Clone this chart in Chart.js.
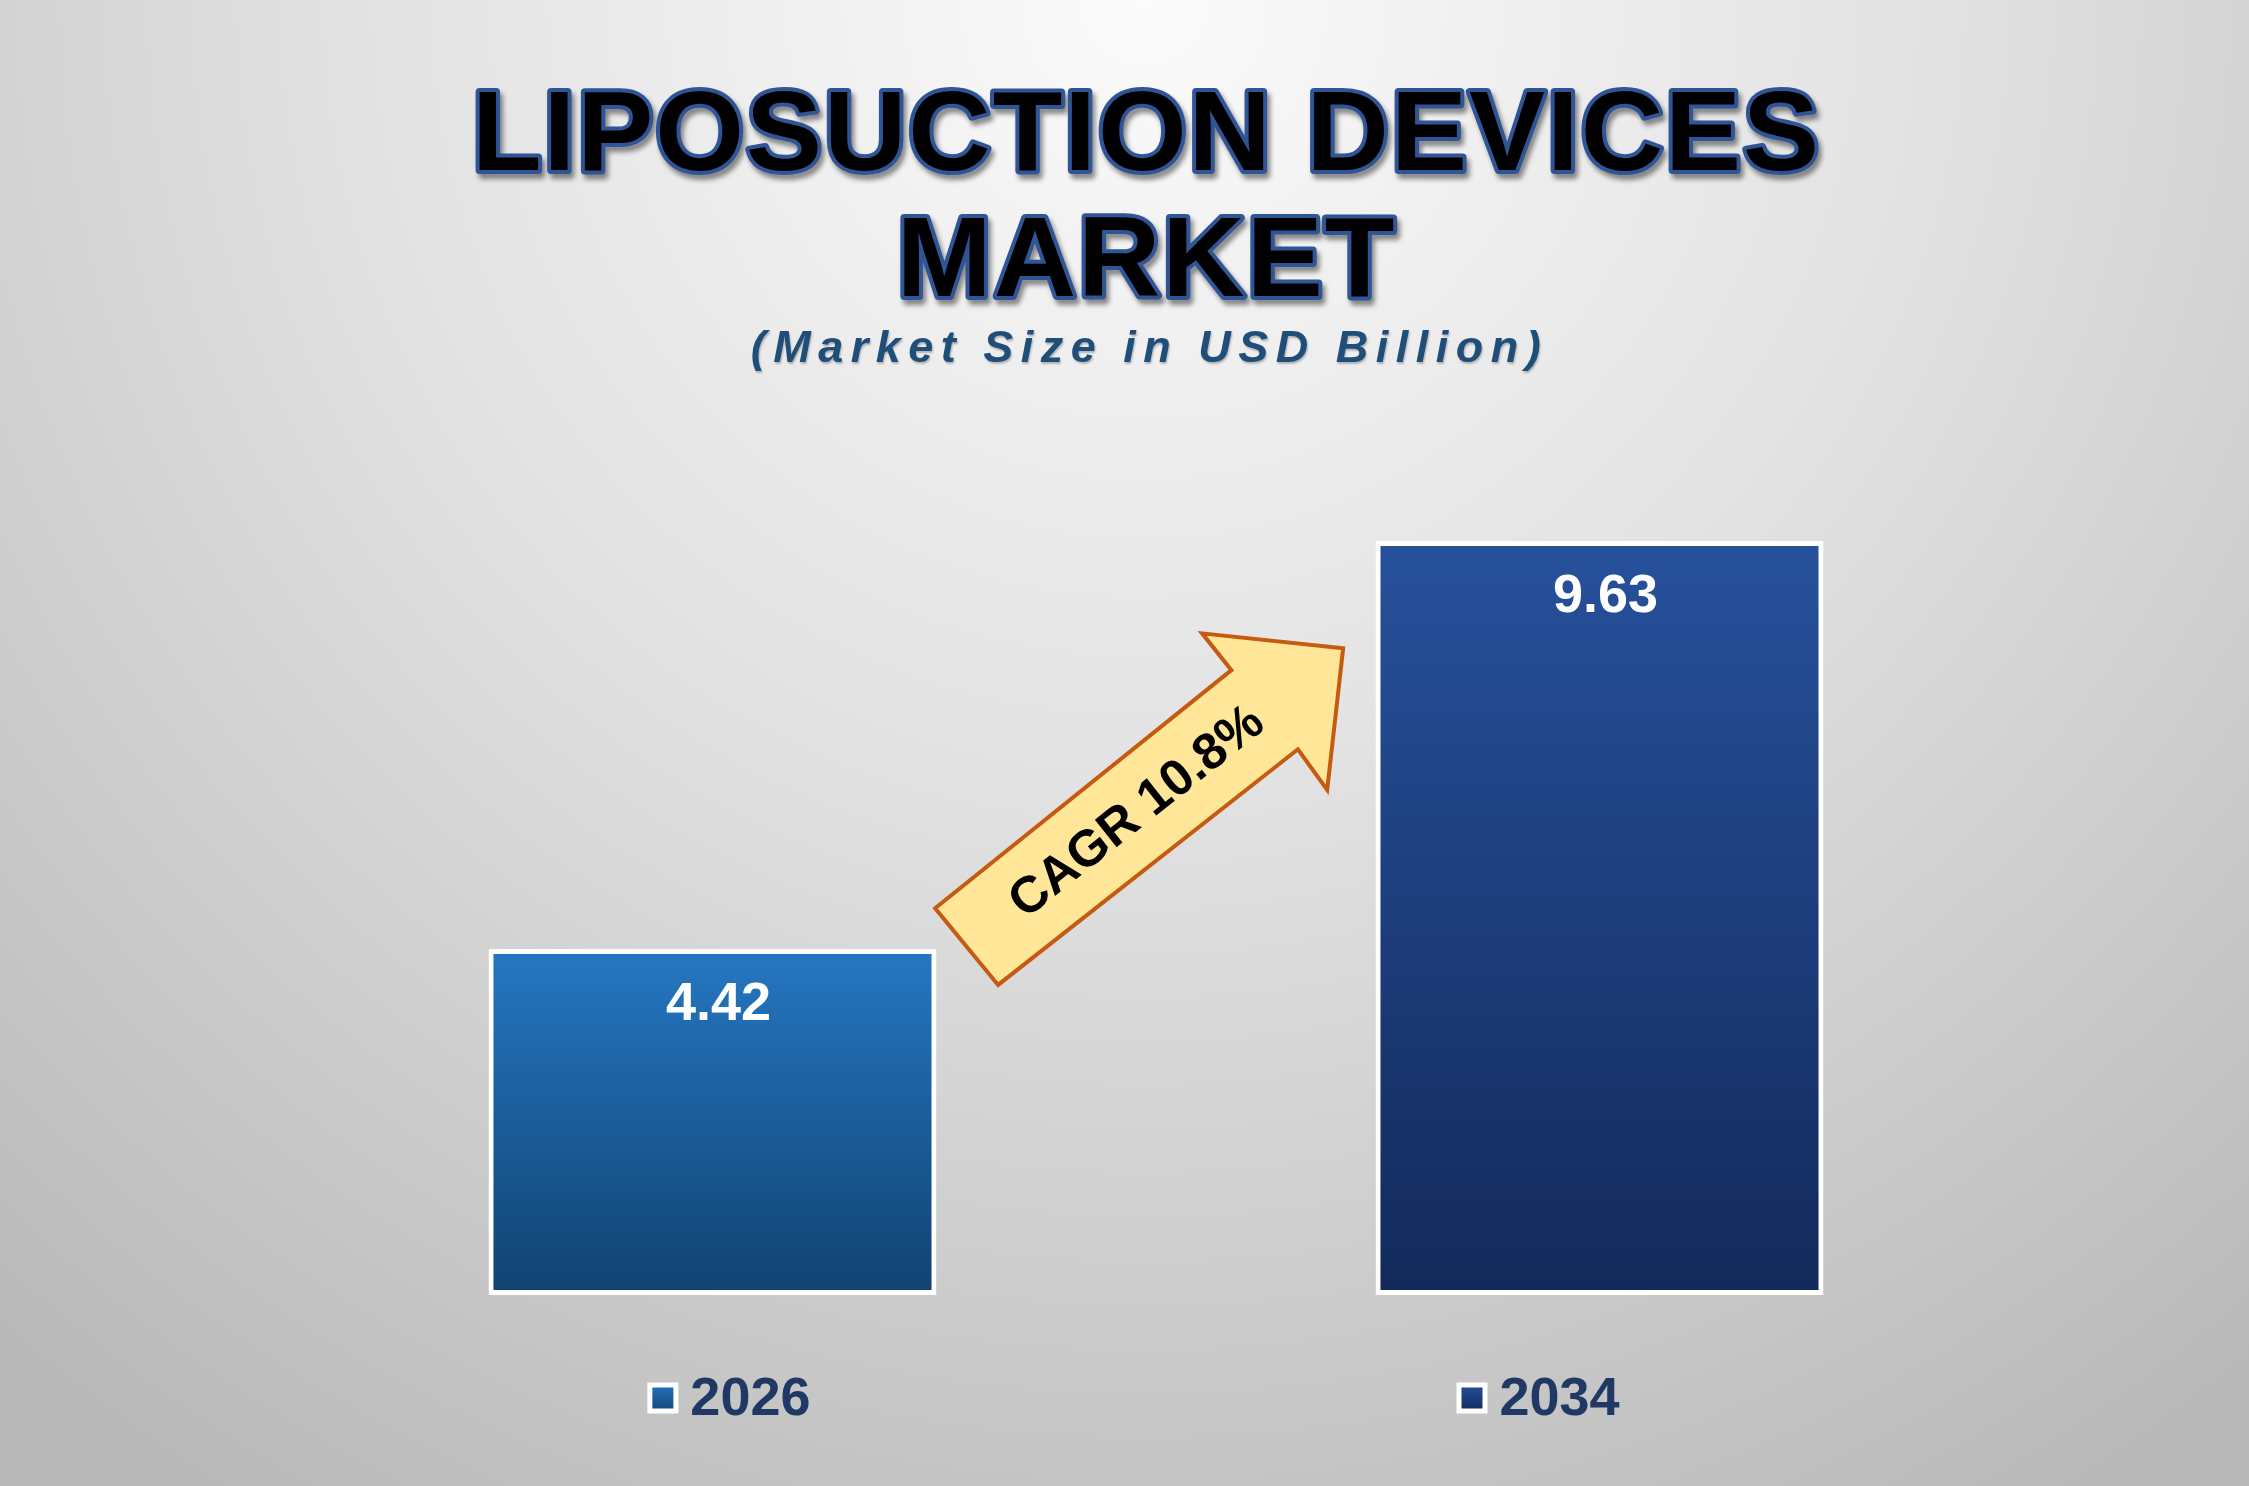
<!DOCTYPE html>
<html><head><meta charset="utf-8">
<script src="https://cdn.jsdelivr.net/npm/chart.js@4.4.1/dist/chart.umd.min.js"></script>
<style>html,body{margin:0;padding:0;overflow:hidden;background:#d0d0d0}#wrap{position:relative;width:2249px;height:1486px}</style>
</head><body><div id="wrap"><canvas id="c"></canvas></div>
<script>
// ---- data ----
const categories = ['2026', '2034'];
const marketValues = [4.42, 9.63];
const titleLines = ['LIPOSUCTION DEVICES', 'MARKET'];
const subtitleText = '(Market Size in USD Billion)';
const cagrText = 'CAGR 10.8%';
// CAGR arrow outline, in (category index, value) coordinates
const arrowIdx = [0.251, 0.585, 0.552, 0.711, 0.693, 0.660, 0.322];
const arrowVal = [4.94, 7.98, 8.45, 8.26, 6.45, 6.97, 3.96];
const cagrAnchor = [0.479, 6.16];

// ---- styles ----
const FONT = "'Liberation Sans', Arial, sans-serif";
const barTop = ['#2577c2', '#27519c'];
const barBottom = ['#114271', '#13295a'];

function gradFor(ctx, i) {
  const chart = ctx.chart;
  const ys = chart.scales && chart.scales.y;
  if (!chart.chartArea || !ys) return barTop[i];
  const top = ys.getPixelForValue(marketValues[i]);
  const bot = ys.getPixelForValue(0);
  const g = chart.ctx.createLinearGradient(0, top, 0, bot);
  g.addColorStop(0, barTop[i]);
  g.addColorStop(1, barBottom[i]);
  return g;
}

const datasets = categories.map((cat, i) => ({
  label: cat,
  data: categories.map((c, j) => (j === i ? marketValues[i] : null)),
  backgroundColor: (ctx) => gradFor(ctx, i),
  borderColor: '#ffffff',
  borderWidth: 5,
  borderSkipped: false,
  grouped: false,
  categoryPercentage: 1,
  barPercentage: 0.505
}));

const bgPlugin = {
  id: 'bg',
  beforeDraw(chart) {
    const { ctx, width, height } = chart;
    ctx.save();
    const g = ctx.createRadialGradient(width / 2 + 20, 0, 0, width / 2 + 20, 0, 1750);
    g.addColorStop(0, '#fbfbfb');
    g.addColorStop(0.45, '#e2e2e2');
    g.addColorStop(1, '#b9b9b9');
    ctx.fillStyle = g;
    ctx.fillRect(0, 0, width, height);
    ctx.restore();
  }
};

const titlePlugin = {
  id: 'titles',
  afterDraw(chart) {
    const ctx = chart.ctx;
    const cx = chart.width / 2 + 22;
    ctx.save();
    ctx.textAlign = 'center';
    ctx.textBaseline = 'middle';
    ctx.font = `bold 114px ${FONT}`;
    ctx.letterSpacing = '2px';
    ctx.lineJoin = 'round';
    const ys = [139, 265];
    titleLines.forEach((t, k) => {
      ctx.save();
      ctx.shadowColor = 'rgba(0,0,0,0.45)';
      ctx.shadowOffsetX = 3;
      ctx.shadowOffsetY = 5;
      ctx.shadowBlur = 5;
      ctx.strokeStyle = '#2f5597';
      ctx.lineWidth = 8;
      ctx.strokeText(t, cx, ys[k]);
      ctx.restore();
      ctx.fillStyle = '#000000';
      ctx.fillText(t, cx, ys[k]);
    });
    ctx.font = `italic bold 45px ${FONT}`;
    ctx.letterSpacing = '7.5px';
    ctx.fillStyle = '#1f4e79';
    ctx.shadowColor = 'rgba(0,0,0,0.25)';
    ctx.shadowOffsetX = 1;
    ctx.shadowOffsetY = 2;
    ctx.shadowBlur = 2;
    ctx.fillText(subtitleText, cx + 3, 350);
    ctx.restore();
  }
};

const labelPlugin = {
  id: 'valueLabels',
  afterDatasetsDraw(chart) {
    const ctx = chart.ctx;
    ctx.save();
    ctx.font = `bold 54px ${FONT}`;
    ctx.fillStyle = '#ffffff';
    ctx.textAlign = 'center';
    ctx.textBaseline = 'middle';
    chart.data.datasets.forEach((ds, di) => {
      const meta = chart.getDatasetMeta(di);
      meta.data.forEach((bar, j) => {
        const v = ds.data[j];
        if (v == null) return;
        ctx.fillText(v.toFixed(2), bar.x + 6, bar.y + 56);
      });
    });
    ctx.restore();
  }
};

const arrowPlugin = {
  id: 'cagrArrow',
  afterDatasetsDraw(chart) {
    const { ctx, scales: { x, y } } = chart;
    const pts = arrowIdx.map((v, k) => [x.getPixelForValue(v), y.getPixelForValue(arrowVal[k])]);
    ctx.save();
    ctx.beginPath();
    pts.forEach((p, k) => (k ? ctx.lineTo(p[0], p[1]) : ctx.moveTo(p[0], p[1])));
    ctx.closePath();
    ctx.fillStyle = '#ffe699';
    ctx.fill();
    ctx.lineWidth = 4;
    ctx.lineJoin = 'miter';
    ctx.strokeStyle = '#c55a11';
    ctx.stroke();
    const tail = [(pts[0][0] + pts[6][0]) / 2, (pts[0][1] + pts[6][1]) / 2];
    const base = [(pts[1][0] + pts[5][0]) / 2, (pts[1][1] + pts[5][1]) / 2];
    const ang = Math.atan2(base[1] - tail[1], base[0] - tail[0]);
    const tx = x.getPixelForValue(cagrAnchor[0]);
    const ty = y.getPixelForValue(cagrAnchor[1]);
    ctx.translate(tx, ty);
    ctx.rotate(ang);
    ctx.font = `bold 51px ${FONT}`;
    ctx.fillStyle = '#000000';
    ctx.textAlign = 'center';
    ctx.textBaseline = 'middle';
    ctx.fillText(cagrText, 0, 0);
    ctx.restore();
  }
};

const legendPlugin = {
  id: 'customLegend',
  afterDraw(chart) {
    const ctx = chart.ctx;
    ctx.save();
    ctx.font = `bold 54px ${FONT}`;
    const box = 31, gapText = 12, gapItems = 646;
    const items = chart.data.datasets.map((ds, i) => ({
      text: ds.label, i, w: box + gapText + ctx.measureText(ds.label).width
    }));
    const total = items.reduce((s, it) => s + it.w, 0) + gapItems * (items.length - 1);
    let xx = chart.width / 2 + 9 - total / 2;
    const cy = 1398;
    items.forEach((it) => {
      ctx.fillStyle = '#ffffff';
      ctx.fillRect(xx, cy - box / 2, box, box);
      const g = ctx.createLinearGradient(0, cy - box / 2, 0, cy + box / 2);
      g.addColorStop(0, barTop[it.i]);
      g.addColorStop(1, barBottom[it.i]);
      ctx.fillStyle = g;
      ctx.fillRect(xx + 5, cy - box / 2 + 5, box - 10, box - 10);
      ctx.fillStyle = '#1f3864';
      ctx.textAlign = 'left';
      ctx.textBaseline = 'middle';
      ctx.fillText(it.text, xx + box + gapText, cy + 2);
      xx += it.w + gapItems;
    });
    ctx.restore();
  }
};

new Chart(document.getElementById('c'), {
  type: 'bar',
  data: { labels: categories, datasets },
  options: {
    responsive: true,
    maintainAspectRatio: false,
    animation: false,
    devicePixelRatio: 1,
    layout: { padding: { top: 512, bottom: 191, left: 269, right: 206 } },
    scales: {
      x: { display: false, grid: { display: false } },
      y: { display: false, min: 0, max: 10, grid: { display: false } }
    },
    plugins: { legend: { display: false }, tooltip: { enabled: false }, title: { display: false } }
  },
  plugins: [bgPlugin, arrowPlugin, labelPlugin, titlePlugin, legendPlugin]
});
</script></body></html>
